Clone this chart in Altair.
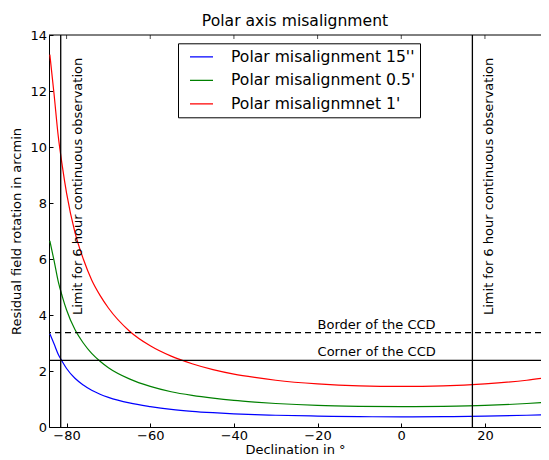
import altair as alt
import pandas as pd

# Declination (degrees) and residual field rotation (arcmin)
dec = [-84, -83, -82, -81, -80, -78, -76, -74, -72, -70, -65, -60, -55, -50,
       -45, -40, -35, -30, -20, -10, 0, 10, 20, 30, 35]
red = [13.3, 11.9, 10.4, 9.3, 8.35, 6.95, 6.0, 5.25, 4.7, 4.25, 3.43, 2.9, 2.53,
       2.26, 2.05, 1.89, 1.77, 1.67, 1.54, 1.47, 1.45, 1.47, 1.54, 1.67, 1.77]
green = [6.65, 5.95, 5.2, 4.65, 4.18, 3.48, 3.0, 2.63, 2.35, 2.12, 1.72, 1.45, 1.26,
         1.13, 1.03, 0.95, 0.89, 0.84, 0.77, 0.74, 0.73, 0.74, 0.77, 0.84, 0.89]
blue = [3.33, 2.97, 2.6, 2.33, 2.09, 1.74, 1.5, 1.31, 1.17, 1.06, 0.86, 0.73, 0.63,
        0.56, 0.51, 0.47, 0.44, 0.42, 0.39, 0.37, 0.36, 0.37, 0.39, 0.42, 0.44]

series_labels = ["Polar misalignment 15''", "Polar misalignment 0.5'", "Polar misalignmnet 1'"]
series_colors = ["#0000ff", "#008000", "#ff0000"]

limit_dec = [-81.4, 17.0]
limit_text = "Limit for 6 hour continuous observation"
limit_text_y = 4.0

ccd_names = ["Border of the CCD", "Corner of the CCD"]
ccd_levels = [3.37, 2.38]
ccd_text_x = -20

x_ticks = [-80, -60, -40, -20, 0, 20]
y_ticks = [0, 2, 4, 6, 8, 10, 12, 14]
x_domain = [-84.2, 33.4]
y_domain = [0, 14]

W, H = 492, 392

rows = []
for lab, vals in zip(series_labels, [blue, green, red]):
    for d, v in zip(dec, vals):
        rows.append({"dec": d, "rot": v, "series": lab})
df = pd.DataFrame(rows)

FONT = "DejaVu Sans"
xs = alt.Scale(domain=x_domain, nice=False, zero=False)
ys = alt.Scale(domain=y_domain, nice=False, zero=False)

x_axis = alt.Axis(title="Declination in °", values=x_ticks, tickSize={"expr": "-4"},
                  labelPadding=6.5, titleY=26.5, titleBaseline="alphabetic", grid=False)
y_axis = alt.Axis(title="Residual field rotation in arcmin", values=y_ticks,
                  tickSize={"expr": "-4"}, labelPadding=6.5, titlePadding=6, grid=False)

lines = alt.Chart(df).mark_line(strokeWidth=1.2, clip=True, interpolate="monotone").encode(
    x=alt.X("dec:Q", scale=xs, axis=x_axis),
    y=alt.Y("rot:Q", scale=ys, axis=y_axis),
    color=alt.Color("series:N",
                    scale=alt.Scale(domain=series_labels, range=series_colors),
                    sort=series_labels,
                    legend=alt.Legend(title=None, orient="none", legendX=129, legendY=8.3,
                                      symbolType="stroke", symbolSize=529,
                                      symbolStrokeWidth=1.2, symbolOffset=6.5,
                                      labelOffset=17, labelFontSize=15.6, labelFont=FONT,
                                      labelColor="black", labelLimit=400, padding=4.5,
                                      rowPadding=5.5, clipHeight=18,
                                      strokeColor="black", fillColor="white",
                                      cornerRadius=0)),
)

# top frame line and inward ticks
top_frame = alt.Chart(pd.DataFrame({"a": [0]})).mark_rule(color="black", strokeWidth=1).encode(
    x=alt.value(0), x2=alt.value(W), y=alt.value(0))
top_ticks = alt.Chart(pd.DataFrame({"dec": x_ticks})).mark_tick(
    color="black", size=4, thickness=1).encode(
    x=alt.X("dec:Q", scale=xs), y=alt.value(2))

vlines = alt.Chart(pd.DataFrame({"dec": limit_dec})).mark_rule(
    color="black", strokeWidth=1.3).encode(x=alt.X("dec:Q", scale=xs))

border = alt.Chart(pd.DataFrame({"y": [ccd_levels[0]]})).mark_rule(
    color="black", strokeWidth=1.1, strokeDash=[6, 4]).encode(y=alt.Y("y:Q", scale=ys))
corner = alt.Chart(pd.DataFrame({"y": [ccd_levels[1]]})).mark_rule(
    color="black", strokeWidth=1.1).encode(y=alt.Y("y:Q", scale=ys))

vtext = alt.Chart(pd.DataFrame({"dec": limit_dec, "y": [limit_text_y] * 2,
                                "t": [limit_text] * 2})).mark_text(
    angle=270, align="left", baseline="middle", dy=17, fontSize=13, font=FONT,
    color="black").encode(x=alt.X("dec:Q", scale=xs), y=alt.Y("y:Q", scale=ys), text="t:N")

htext = alt.Chart(pd.DataFrame({"x": [ccd_text_x] * 2, "y": ccd_levels,
                                "t": ccd_names})).mark_text(
    align="left", baseline="alphabetic", dy=-4, fontSize=13, font=FONT,
    color="black").encode(x=alt.X("x:Q", scale=xs), y=alt.Y("y:Q", scale=ys), text="t:N")

chart = alt.layer(lines, top_frame, top_ticks, vlines, border, corner, vtext, htext).properties(
    width=W, height=H,
    padding={"left": 41, "top": 27, "right": 0, "bottom": 32},
    autosize=alt.AutoSizeParams(type="none"),
    title=alt.TitleParams("Polar axis misalignment", fontSize=15.6, font=FONT,
                          fontWeight="normal", color="black", offset=6, dy=7),
).configure_view(stroke=None).configure_axis(
    labelFont=FONT, labelFontSize=13, labelColor="black",
    titleFont=FONT, titleFontSize=13, titleFontWeight="normal", titleColor="black",
    domainColor="black", domainWidth=1, tickColor="black", tickWidth=1,
)

chart.save("out.html", embed_options={"renderer": "svg", "actions": False})
